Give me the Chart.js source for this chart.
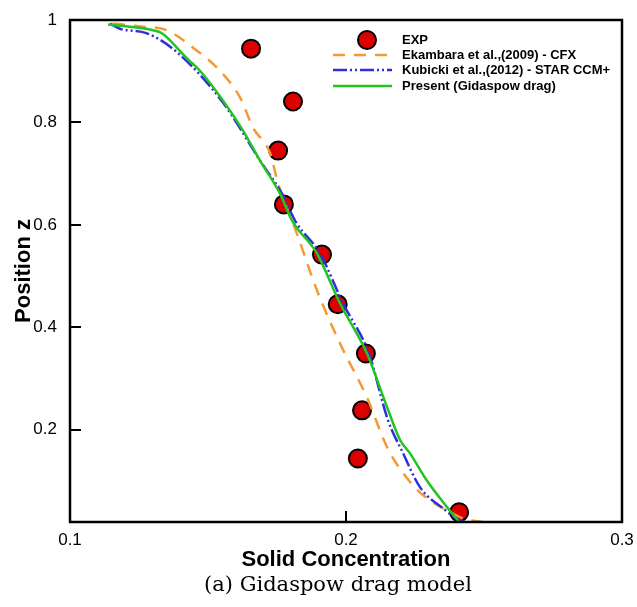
<!DOCTYPE html>
<html>
<head>
<meta charset="utf-8">
<script src="https://cdn.jsdelivr.net/npm/chart.js@4.4.0/dist/chart.umd.min.js"></script>
<style>
    html, body { margin: 0; padding: 0; background: #fff; }
    #chartBox { width: 637px; height: 607px; position: relative; }
</style>
</head>
<body>
<div id="chartBox"><canvas id="profileCanvas"></canvas></div>
<script>
// tick labels
const xTicks = [0.1, 0.2, 0.3]
const yTicks = [0.2, 0.4, 0.6, 0.8, 1]

// EXP points
const expX = [0.1656, 0.1808, 0.1754, 0.1775, 0.1913, 0.1970, 0.2072, 0.2058, 0.2043, 0.2410]
const expY = [0.944, 0.841, 0.745, 0.640, 0.542, 0.445, 0.349, 0.238, 0.144, 0.039]

// Ekambara et al. (2009) - CFX
const ekaX = [0.1156, 0.1264, 0.1351, 0.1446, 0.1543, 0.1616, 0.1663, 0.1725, 0.1754, 0.1822, 0.1895, 0.1978, 0.2076, 0.2149, 0.2232, 0.2304, 0.2366, 0.2424, 0.2522]
const ekaY = [0.993, 0.987, 0.980, 0.946, 0.901, 0.849, 0.790, 0.740, 0.681, 0.583, 0.472, 0.369, 0.263, 0.166, 0.098, 0.062, 0.043, 0.027, 0.018]

// Kubicki et al. (2012) - STAR CCM+
const kubX = [0.1145, 0.1181, 0.1279, 0.1388, 0.1554, 0.1688, 0.1768, 0.1819, 0.1906, 0.1989, 0.2083, 0.2152, 0.2207, 0.2268, 0.2351, 0.2413, 0.2467]
const kubY = [0.993, 0.983, 0.974, 0.937, 0.839, 0.726, 0.661, 0.605, 0.544, 0.447, 0.349, 0.219, 0.154, 0.088, 0.047, 0.023, 0.018]

// Present (Gidaspow drag)
const preX = [0.1138, 0.1301, 0.1333, 0.1424, 0.1471, 0.1554, 0.1627, 0.1688, 0.1761, 0.1804, 0.1895, 0.1978, 0.2076, 0.2149, 0.2196, 0.2232, 0.2293, 0.2366, 0.2413]
const preY = [0.991, 0.980, 0.974, 0.925, 0.901, 0.843, 0.784, 0.726, 0.661, 0.609, 0.544, 0.447, 0.349, 0.244, 0.180, 0.154, 0.101, 0.049, 0.018]

function toPoints(xs, ys) {
    return xs.map((x, i) => ({ x: x, y: ys[i] }))
}

const red = '#dc0000'
const orange = '#f39a35'
const blue = '#2f2fe0'
const green = '#22c322'
const dashEka = [12, 9]
const dashKub = [14, 3, 2, 3, 2, 3]

const frameAndLegend = {
    id: 'frameAndLegend',
    afterDatasetsDraw(chart) {
        const ctx = chart.ctx
        const a = chart.chartArea
        const sx = chart.scales.x
        const sy = chart.scales.y
        ctx.save()

        // inward tick marks
        ctx.strokeStyle = '#000'
        ctx.lineWidth = 2
        ctx.beginPath()
        yTicks.forEach(v => {
            if (v < sy.max) {
                let py = Math.round(sy.getPixelForValue(v))
                ctx.moveTo(a.left, py)
                ctx.lineTo(a.left + 11, py)
            }
        })
        xTicks.forEach(v => {
            if (v > sx.min && v < sx.max) {
                let px = Math.round(sx.getPixelForValue(v))
                ctx.moveTo(px, a.bottom)
                ctx.lineTo(px, a.bottom - 11)
            }
        })
        ctx.stroke()

        // frame
        ctx.lineWidth = 2.5
        ctx.strokeRect(a.left, a.top, a.right - a.left, a.bottom - a.top)

        // legend
        let ds = chart.data.datasets
        let lx = 333, tx = 402
        let rows = [40, 55, 70, 86]
        ctx.font = 'bold 13px "Liberation Sans", Arial, sans-serif'
        ctx.textBaseline = 'middle'
        ctx.textAlign = 'left'
        ds.forEach((d, i) => {
            let y = rows[i]
            if (d.showLine) {
                ctx.strokeStyle = d.borderColor
                ctx.lineWidth = d.borderWidth
                ctx.setLineDash(d.borderDash || [])
                ctx.beginPath()
                ctx.moveTo(lx, y)
                ctx.lineTo(lx + 59, y)
                ctx.stroke()
                ctx.setLineDash([])
            } else {
                ctx.fillStyle = d.pointBackgroundColor
                ctx.strokeStyle = d.pointBorderColor
                ctx.lineWidth = d.pointBorderWidth
                ctx.beginPath()
                ctx.arc(367, y, d.pointRadius, 0, Math.PI * 2)
                ctx.fill()
                ctx.stroke()
            }
            ctx.fillStyle = '#000'
            ctx.fillText(d.label, tx, y)
        })

        // caption
        ctx.font = '21px "DejaVu Serif", serif'
        ctx.textAlign = 'center'
        ctx.fillText('(a) Gidaspow drag model', 338, 586)
        ctx.restore()
    }
}

const tickFont = { family: '"Liberation Sans", Arial, sans-serif', size: 17 }
const titleFont = { family: '"Liberation Sans", Arial, sans-serif', size: 22, weight: 'bold' }

new Chart(document.getElementById('profileCanvas'), {
    type: 'scatter',
    data: {
        datasets: [
            {
                label: 'EXP',
                data: toPoints(expX, expY),
                showLine: false,
                pointRadius: 9,
                pointBackgroundColor: red,
                pointBorderColor: '#000',
                pointBorderWidth: 2,
                order: 4
            },
            {
                label: 'Ekambara et al.,(2009) - CFX',
                data: toPoints(ekaX, ekaY),
                showLine: true,
                borderColor: orange,
                borderWidth: 2.5,
                borderDash: dashEka,
                pointRadius: 0,
                cubicInterpolationMode: 'monotone',
                order: 3
            },
            {
                label: 'Kubicki et al.,(2012) - STAR CCM+',
                data: toPoints(kubX, kubY),
                showLine: true,
                borderColor: blue,
                borderWidth: 2.5,
                borderDash: dashKub,
                pointRadius: 0,
                cubicInterpolationMode: 'monotone',
                order: 2
            },
            {
                label: 'Present (Gidaspow drag)',
                data: toPoints(preX, preY),
                showLine: true,
                borderColor: green,
                borderWidth: 2.5,
                pointRadius: 0,
                cubicInterpolationMode: 'monotone',
                order: 1
            }
        ]
    },
    options: {
        responsive: true,
        maintainAspectRatio: false,
        animation: false,
        layout: { padding: { top: 20, right: 15, left: 0, bottom: 33 } },
        plugins: {
            legend: { display: false },
            tooltip: { enabled: false }
        },
        scales: {
            x: {
                type: 'linear',
                min: 0.1,
                max: 0.3,
                afterBuildTicks: (scale) => { scale.ticks = xTicks.map(v => ({ value: v })) },
                afterFit: (scale) => {
                    scale.height = 52
                    scale.paddingLeft = 0
                    scale.paddingRight = 0
                },
                grid: { display: false, drawTicks: false },
                border: { display: false },
                ticks: { color: '#000', font: tickFont, padding: 8, maxRotation: 0, callback: (v) => String(v) },
                title: { display: true, text: 'Solid Concentration', color: '#000', font: titleFont, padding: { top: 0, bottom: 1 } }
            },
            y: {
                type: 'linear',
                min: 0.02,
                max: 1,
                afterBuildTicks: (scale) => { scale.ticks = yTicks.map(v => ({ value: v })) },
                afterFit: (scale) => {
                    scale.width = 70
                    scale.paddingTop = 0
                    scale.paddingBottom = 0
                },
                grid: { display: false, drawTicks: false },
                border: { display: false },
                ticks: { color: '#000', font: tickFont, padding: 13, callback: (v) => String(v) },
                title: { display: true, text: 'Position z', color: '#000', font: titleFont, padding: { top: 11, bottom: 0 } }
            }
        }
    },
    plugins: [frameAndLegend]
})
</script>
</body>
</html>
